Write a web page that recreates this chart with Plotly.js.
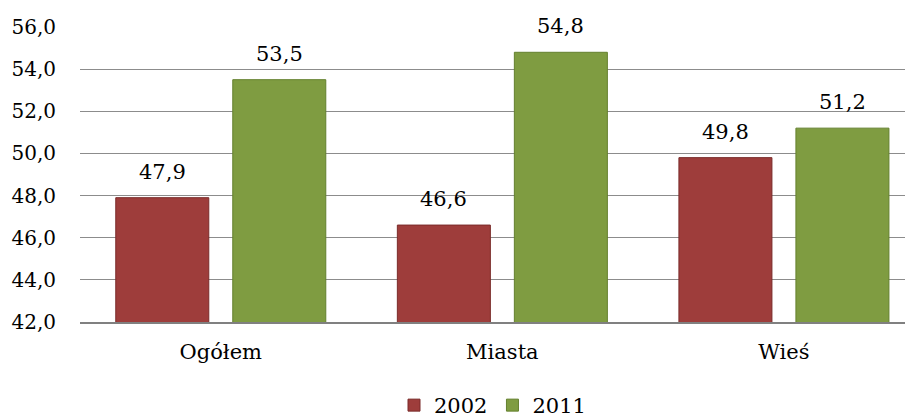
<!DOCTYPE html>
<html>
<head>
<meta charset="utf-8">
<script src="https://cdn.plot.ly/plotly-3.0.1.min.js"></script>
<style>
  html, body { margin: 0; padding: 0; background: #ffffff; }
  #chart { width: 912px; height: 419px; }
</style>
</head>
<body>
<div id="chart"></div>
<script>
// data
const categories = ['Ogółem', 'Miasta', 'Wieś'];
const values2002 = [47.9, 46.6, 49.8];
const values2011 = [53.5, 54.8, 51.2];
const yTicks = [42, 44, 46, 48, 50, 52, 54, 56];

const serif = 'DejaVu Serif';
const fmt = v => v.toFixed(1).replace('.', ',');

const trace2002 = {
    x: categories, y: values2002, type: 'bar', name: '2002',
    marker: { color: '#9e3d3b', line: { color: '#7a2b2a', width: 1 } },
    hoverinfo: 'x+y'
};
const trace2011 = {
    x: categories, y: values2011, type: 'bar', name: '2011',
    marker: { color: '#7f9c41', line: { color: '#64802e', width: 1 } },
    hoverinfo: 'x+y'
};

// value labels above bars (offset from each bar's group slot)
const labels = [];
categories.forEach((cat, i) => {
    labels.push({ x: cat, y: values2002[i], text: fmt(values2002[i]), xshift: -58.5 });
    labels.push({ x: cat, y: values2011[i], text: fmt(values2011[i]), xshift: 58.5 });
});
const annotations = labels.map(l => ({
    x: l.x, y: l.y, text: l.text, xref: 'x', yref: 'y',
    xshift: l.xshift, yshift: 26, showarrow: false,
    font: { family: serif, size: 21, color: '#000000' }
}));

const layout = {
    width: 912, height: 419,
    paper_bgcolor: '#ffffff', plot_bgcolor: '#ffffff',
    font: { family: serif, size: 20, color: '#000000' },
    separators: ',.',
    margin: { l: 80, r: 7, t: 27, b: 97, autoexpand: false },
    barmode: 'group', bargap: 0.169, bargroupgap: 0.205,
    showlegend: true,
    legend: {
        orientation: 'h', x: 0.5, xanchor: 'center', y: -0.283, yanchor: 'middle',
        font: { family: serif, size: 21 }, itemwidth: 30, tracegroupgap: 0
    },
    xaxis: {
        range: [-0.5, 2.43],
        showgrid: false, showline: true, linecolor: '#808080', linewidth: 2,
        ticks: '', ticklabelstandoff: 10,
        tickfont: { family: serif, size: 21 }
    },
    yaxis: {
        range: [42, 56], tickmode: 'array', tickvals: yTicks,
        tickformat: '.1f', showgrid: true, gridcolor: '#8c8c8c', gridwidth: 1,
        zeroline: false, showline: false, ticks: '', ticklabelstandoff: 23,
        tickfont: { family: serif, size: 20 }
    },
    annotations: annotations
};

Plotly.newPlot('chart', [trace2002, trace2011], layout, { displayModeBar: false, staticPlot: true });
</script>
</body>
</html>
